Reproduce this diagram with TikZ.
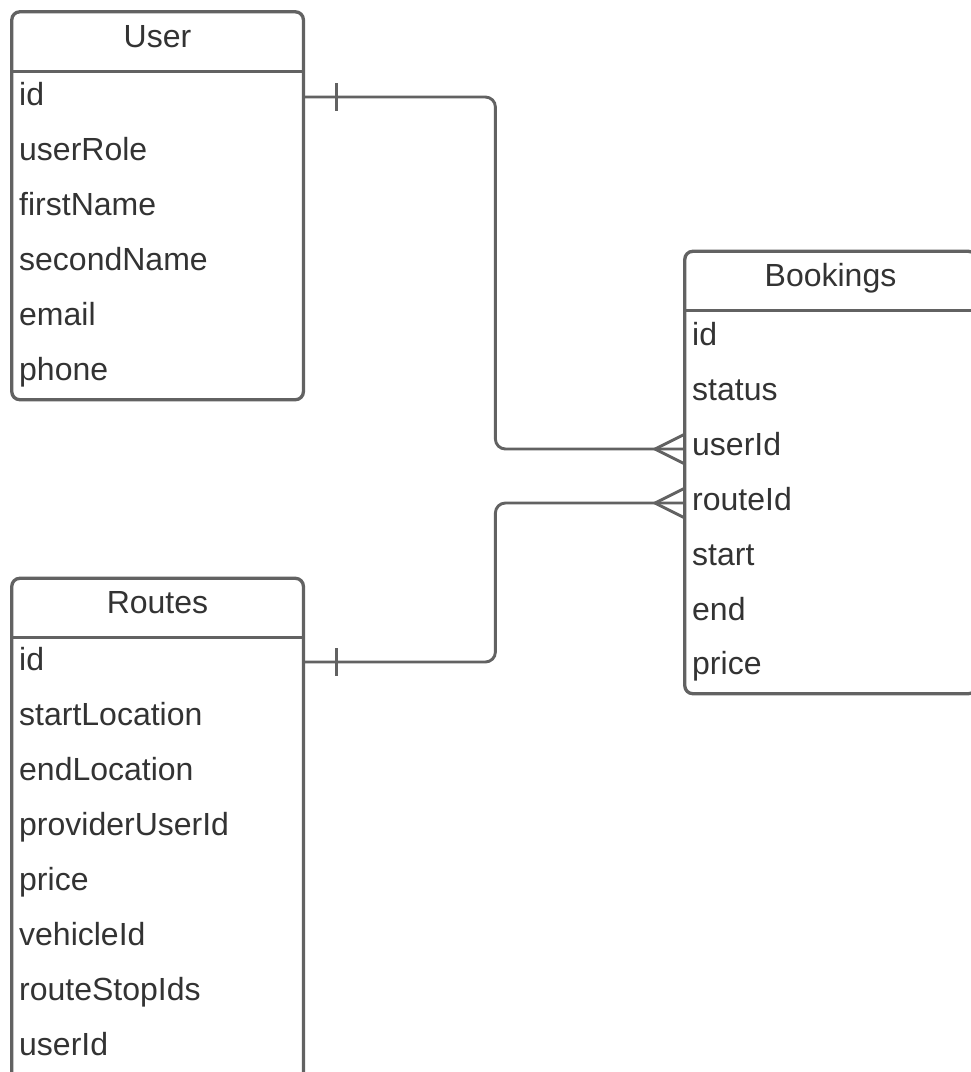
\documentclass[tikz,border=0pt]{standalone}
\usepackage{fontspec}
\setmainfont{Liberation Sans}
\definecolor{ercline}{HTML}{626262}
\definecolor{erctext}{HTML}{333333}
\begin{document}
\begin{tikzpicture}[x=1pt,y=-1pt,
  frame/.style={draw=ercline, line width=3.3pt, rounded corners=8pt},
  divider/.style={draw=ercline, line width=3.3pt},
  conn/.style={draw=ercline, line width=2.9pt},
  hdr/.style={minimum width=291pt, minimum height=59pt, inner sep=0pt,
    text height=23pt, text depth=12pt, font=\fontsize{32}{38}\selectfont, text=erctext},
  fld/.style={anchor=west, minimum height=55pt, text width=277pt, inner xsep=7pt,
    inner ysep=0pt, text height=23pt, text depth=7pt, align=left,
    font=\fontsize{32}{38}\selectfont, text=erctext}]
\useasboundingbox (0,0) rectangle (971,1072);
\fill[white] (0,0) rectangle (971,1072);
\clip (0,0) rectangle (971,1072);

% User table
\node[hdr] (uh) at (157.5,41.5) {User};
\node[fld] (uid) at (12,97) {id};
\node[fld] (urole) at (12,152) {userRole};
\node[fld] (ufirst) at (12,207) {firstName};
\node[fld] (usecond) at (12,262) {secondName};
\node[fld] (uemail) at (12,317) {email};
\node[fld] (uphone) at (12,372) {phone};
\draw[frame] (uh.north west) rectangle (uphone.south east);
\draw[divider] (uh.south west) -- (uh.south east);

% Bookings table
\node[hdr] (bh) at (830.5,281) {Bookings};
\node[fld] (bid) at (685,337) {id};
\node[fld] (bstatus) at (685,392) {status};
\node[fld] (buid) at (685,447) {userId};
\node[fld] (brid) at (685,502) {routeId};
\node[fld] (bstart) at (685,557) {start};
\node[fld] (bend) at (685,612) {end};
\node[fld] (bprice) at (685,666) {price};
\draw[frame] (bh.north west) rectangle (bprice.south east);
\draw[divider] (bh.south west) -- (bh.south east);

% Routes table
\node[hdr] (rh) at (157.5,608) {Routes};
\node[fld] (rid) at (12,662) {id};
\node[fld] (rstart) at (12,717) {startLocation};
\node[fld] (rend) at (12,772) {endLocation};
\node[fld] (rprov) at (12,827) {providerUserId};
\node[fld] (rprice) at (12,882) {price};
\node[fld] (rveh) at (12,937) {vehicleId};
\node[fld] (rstops) at (12,992) {routeStopIds};
\node[fld] (ruser) at (12,1047) {userId};
\draw[frame] (rh.north west) rectangle ([yshift=-12pt]ruser.south east);
\draw[divider] (rh.south west) -- (rh.south east);

% User.id -> Bookings.userId
\draw[conn, rounded corners=10pt] (uid.east) -- ++(192,0) |- ([yshift=-2pt]buid.west);
\draw[conn] ([xshift=33pt,yshift=14pt]uid.east) -- ([xshift=33pt,yshift=-14pt]uid.east);
\draw[conn] ([yshift=13pt]buid.west) -- ([xshift=-30pt,yshift=-2pt]buid.west) -- ([yshift=-17pt]buid.west);

% Routes.id -> Bookings.routeId
\draw[conn, rounded corners=10pt] (rid.east) -- ++(192,0) |- ([yshift=-1pt]brid.west);
\draw[conn] ([xshift=33pt,yshift=14pt]rid.east) -- ([xshift=33pt,yshift=-14pt]rid.east);
\draw[conn] ([yshift=14pt]brid.west) -- ([xshift=-30pt,yshift=-1pt]brid.west) -- ([yshift=-16pt]brid.west);
\end{tikzpicture}
\end{document}
